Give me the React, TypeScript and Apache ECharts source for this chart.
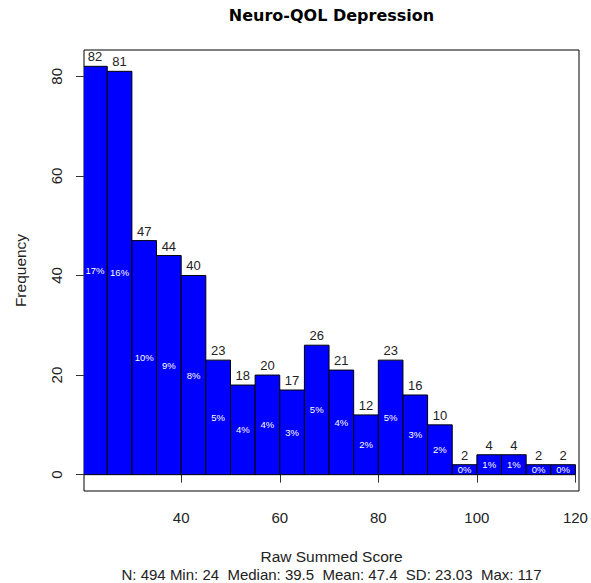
import React, { useEffect, useRef } from "react";
import * as echarts from "echarts";

const breaks = [20, 25, 30, 35, 40, 45, 50, 55, 60, 65, 70, 75, 80, 85, 90, 95, 100, 105, 110, 115, 120];
const counts = [82, 81, 47, 44, 40, 23, 18, 20, 17, 26, 21, 12, 23, 16, 10, 2, 4, 4, 2, 2];
const pctLabels = ["17%", "16%", "10%", "9%", "8%", "5%", "4%", "4%", "3%", "5%", "4%", "2%", "5%", "3%", "2%", "0%", "1%", "1%", "0%", "0%"];
const xTicks = [40, 60, 80, 100, 120];
const yTicks = [0, 20, 40, 60, 80];
const titleText = "Neuro-QOL Depression";
const xLabel = "Raw Summed Score";
const yLabel = "Frequency";
const subText = "N: 494 Min: 24  Median: 39.5  Mean: 47.4  SD: 23.03  Max: 117";

const FONT = "'Liberation Sans', Arial, sans-serif";
const TXT = "#222";

export default function App() {
  const ref = useRef<HTMLDivElement>(null);
  useEffect(() => {
    if (!ref.current) return;
    const chart = echarts.init(ref.current, undefined, { renderer: "svg" });
    const data = counts.map((c, i) => [breaks[i], breaks[i + 1], c, pctLabels[i]]);
    chart.setOption({
      animation: false,
      backgroundColor: "#fff",
      textStyle: { fontFamily: FONT },
      grid: {
        left: 84,
        right: 12,
        top: 50,
        bottom: 92,
        show: true,
        borderColor: "#000",
        borderWidth: 1,
        backgroundColor: "transparent",
      },
      xAxis: {
        type: "value",
        min: 20.28,
        max: 120.72,
        splitLine: { show: false },
        axisLine: { show: false },
        axisTick: { show: true, customValues: xTicks, length: 8, lineStyle: { color: "#333" } },
        axisLabel: {
          customValues: xTicks,
          fontSize: 15,
          color: TXT,
          margin: 19,
          fontFamily: FONT,
        },
      },
      yAxis: {
        type: "value",
        min: -3.28,
        max: 85.28,
        splitLine: { show: false },
        axisLine: { show: false },
        axisTick: { show: true, customValues: yTicks, length: 8, lineStyle: { color: "#333" } },
        axisLabel: {
          customValues: yTicks,
          fontSize: 15,
          color: TXT,
          rotate: 90,
          margin: 20,
          fontFamily: FONT,
        },
      },
      graphic: [
        {
          type: "text",
          x: 331.5,
          y: 15,
          style: {
            text: titleText,
            fontSize: 16,
            fontWeight: "bold",
            fill: "#000",
            fontFamily: "'DejaVu Sans', Verdana, sans-serif",
            textAlign: "center",
            textVerticalAlign: "middle",
          },
        },
        {
          type: "text",
          x: 331.5,
          y: 556,
          style: {
            text: xLabel,
            fontSize: 15.5,
            fill: TXT,
            fontFamily: FONT,
            textAlign: "center",
            textVerticalAlign: "middle",
          },
        },
        {
          type: "text",
          x: 331.5,
          y: 574,
          style: {
            text: subText,
            fontSize: 15,
            fill: TXT,
            fontFamily: FONT,
            textAlign: "center",
            textVerticalAlign: "middle",
          },
        },
        {
          type: "text",
          x: 20,
          y: 270.5,
          rotation: Math.PI / 2,
          style: {
            text: yLabel,
            fontSize: 15.5,
            fill: TXT,
            fontFamily: FONT,
            textAlign: "center",
            textVerticalAlign: "middle",
          },
        },
      ],
      series: [
        {
          type: "custom",
          clip: true,
          encode: { x: [0, 1], y: 2 },
          data,
          renderItem: (params: any, api: any) => {
            const x0 = api.value(0);
            const x1 = api.value(1);
            const c = api.value(2);
            const idx = params.dataIndex;
            const p0 = api.coord([x0, c]);
            const p1 = api.coord([x1, 0]);
            const cx = (p0[0] + p1[0]) / 2;
            return {
              type: "group",
              children: [
                {
                  type: "rect",
                  shape: { x: p0[0], y: p0[1], width: p1[0] - p0[0], height: p1[1] - p0[1] },
                  style: { fill: "#0000FF", stroke: "#000", lineWidth: 1 },
                },
                {
                  type: "text",
                  x: cx,
                  y: p0[1] - 3,
                  style: {
                    text: String(c),
                    fontSize: 13,
                    fill: TXT,
                    fontFamily: FONT,
                    textAlign: "center",
                    textVerticalAlign: "bottom",
                  },
                },
                {
                  type: "text",
                  x: cx,
                  y: (p0[1] + p1[1]) / 2,
                  style: {
                    text: pctLabels[idx],
                    fontSize: 9.5,
                    fill: "#fff",
                    fontFamily: FONT,
                    textAlign: "center",
                    textVerticalAlign: "middle",
                  },
                },
              ],
            };
          },
        },
      ],
    });
    return () => chart.dispose();
  }, []);
  return <div ref={ref} style={{ width: 591, height: 583, position: "absolute", left: 0, top: 0 }} />;
}
